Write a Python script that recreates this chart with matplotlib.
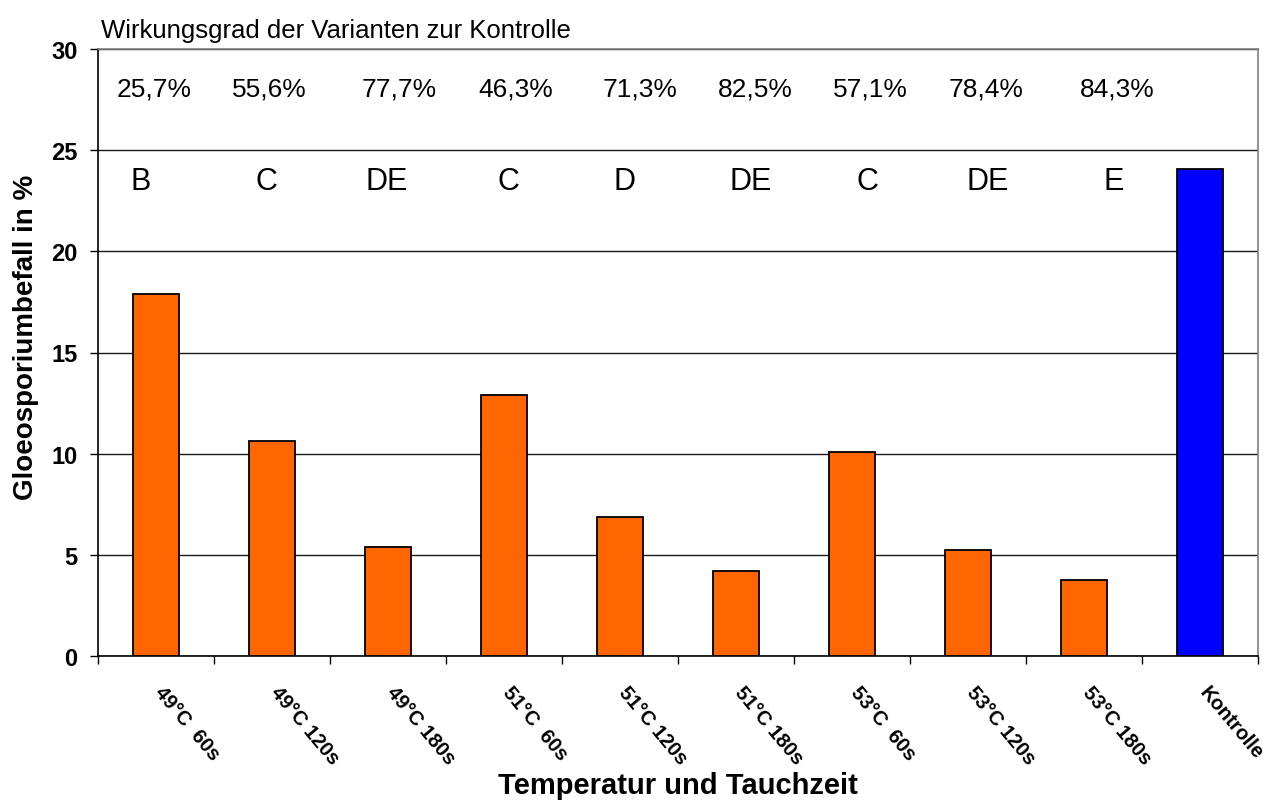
import matplotlib
matplotlib.use("Agg")
import matplotlib.pyplot as plt
from matplotlib.transforms import ScaledTranslation

plt.rcParams["font.family"] = ["Liberation Sans", "DejaVu Sans"]

# Gloeosporium infestation per treatment (temperature and dip time)
categories = ["49°C  60s", "49°C 120s", "49°C 180s",
              "51°C  60s", "51°C 120s", "51°C 180s",
              "53°C  60s", "53°C 120s", "53°C 180s", "Kontrolle"]
befall = [17.9, 10.65, 5.37, 12.9, 6.88, 4.2, 10.1, 5.23, 3.78, 24.05]
bar_colors = ["#FF6600"] * 9 + ["#0000FF"]

# efficiency vs. control and significance letters (no letter for the control)
wirkungsgrad = ["25,7%", "55,6%", "77,7%", "46,3%", "71,3%",
                "82,5%", "57,1%", "78,4%", "84,3%"]
letters = ["B", "C", "DE", "C", "D", "DE", "C", "DE", "E"]

# text boxes in the original are not exactly centred on the bars
pct_dx = [-0.02, -0.02, 0.10, 0.10, 0.17, 0.17, 0.16, 0.16, 0.29]
let_dx = [-0.13, -0.05, -0.01, 0.04, 0.04, 0.13, 0.13, 0.17, 0.26]

fig = plt.figure(figsize=(12.73, 8.03), dpi=100)
ax = fig.add_axes([98 / 1273, 1 - 657 / 803, 1160 / 1273, 607 / 803])

x = list(range(len(categories)))
ax.bar(x, befall, width=0.4, color=bar_colors, edgecolor="black",
       linewidth=1.3, zorder=3)

ax.set_xlim(-0.5, len(categories) - 0.5)
ax.set_ylim(0, 30)

# horizontal gridlines
ax.set_yticks([0, 5, 10, 15, 20, 25, 30])
ax.yaxis.grid(True, color="#1a1a1a", linewidth=1.0, zorder=0)
ax.set_axisbelow(True)

for side in ["top", "right"]:
    ax.spines[side].set_color("#808080")
    ax.spines[side].set_linewidth(1.2)
for side in ["left", "bottom"]:
    ax.spines[side].set_color("black")
    ax.spines[side].set_linewidth(1.2)

ax.tick_params(axis="y", direction="out", length=5.8, width=1, pad=9,
               labelsize=17)
for lab in ax.get_yticklabels():
    lab.set_fontweight("bold")

# category labels at bar centres, tick marks at category boundaries
ax.set_xticks(x)
ax.set_xticklabels(categories, rotation=-50, ha="left",
                   rotation_mode="anchor", fontsize=14.5, fontweight="bold")
ax.set_xticks([i - 0.5 for i in range(len(categories) + 1)], minor=True)
ax.tick_params(axis="x", which="major", length=0, pad=19)
ax.tick_params(axis="x", which="minor", direction="out", length=5.8, width=1)
shift = ScaledTranslation(7 / 72, 0, fig.dpi_scale_trans)
for lab in ax.get_xticklabels():
    lab.set_transform(lab.get_transform() + shift)

ax.set_ylabel("Gloeosporiumbefall in %", fontsize=20, fontweight="bold")
ax.yaxis.label.set_va("center")
ax.yaxis.set_label_coords(-0.062, 0.527)
ax.set_xlabel("Temperatur und Tauchzeit", fontsize=21, fontweight="bold")
ax.xaxis.set_label_coords(0.5, -0.19)

for i in range(len(wirkungsgrad)):
    ax.text(i + pct_dx[i], 27.68, wirkungsgrad[i], ha="center",
            va="baseline", fontsize=19)
    ax.text(i + let_dx[i], 23.08, letters[i], ha="center",
            va="baseline", fontsize=22)

fig.text(101 / 1273, 1 - 38 / 803, "Wirkungsgrad der Varianten zur Kontrolle",
         ha="left", va="baseline", fontsize=18.5)

fig.savefig("out.png", dpi=100)
